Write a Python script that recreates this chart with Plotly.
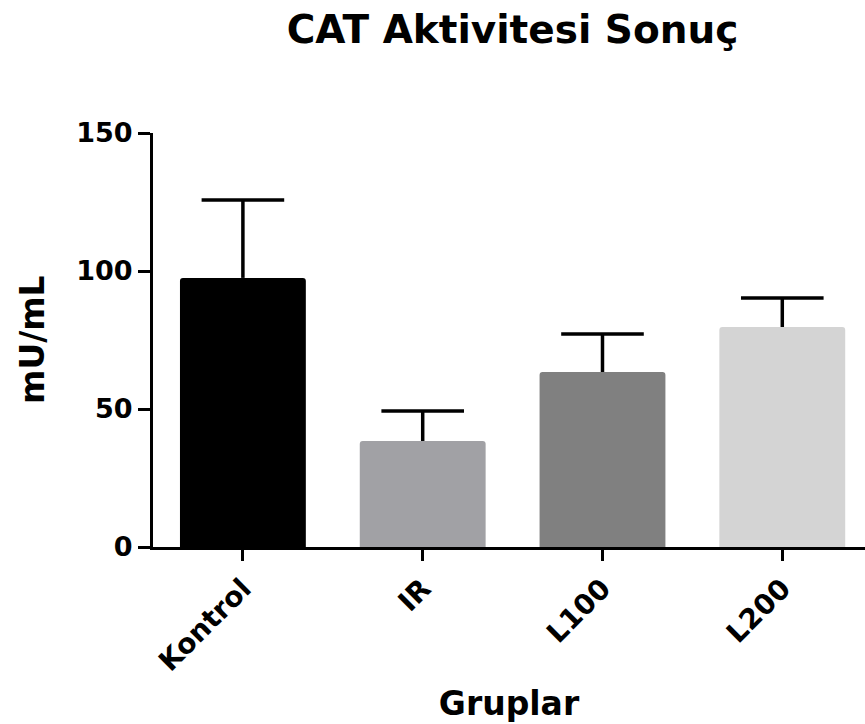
import plotly.graph_objects as go

groups = ["Kontrol", "IR", "L100", "L200"]
means = [97.5, 38.4, 63.4, 79.7]
sem = [28.2, 10.9, 13.8, 10.5]
colors = ["#000000", "#a1a1a5", "#808080", "#d4d4d4"]
y_ticks = [0, 50, 100, 150]

FONT = "DejaVu Sans, Liberation Sans, Arial"

fig = go.Figure()
fig.add_trace(
    go.Bar(
        x=groups,
        y=means,
        marker=dict(color=colors, line=dict(width=0)),
        width=0.7,
        error_y=dict(
            type="data",
            symmetric=False,
            array=sem,
            arrayminus=[0] * len(sem),
            color="#000000",
            thickness=3.5,
            width=0,
        ),
    )
)
# top caps of the (upper-only) error bars
fig.add_trace(
    go.Scatter(
        x=groups,
        y=[m + s for m, s in zip(means, sem)],
        mode="markers",
        marker=dict(symbol="line-ew", size=59, line=dict(width=3.5, color="#000000")),
        hoverinfo="skip",
    )
)

fig.update_layout(
    width=865,
    height=724,
    margin=dict(l=153, r=0, t=133, b=177),
    paper_bgcolor="white",
    plot_bgcolor="white",
    showlegend=False,
    barcornerradius=3,
    title=dict(
        text="CAT Aktivitesi Sonuç",
        font=dict(family=FONT, size=39, color="black", weight="bold"),
        x=0.505,
        xref="paper",
        xanchor="center",
        y=1 - 29 / 724,
        yref="container",
        yanchor="middle",
    ),
    annotations=[
        dict(
            text="mU/mL",
            textangle=-90,
            xref="paper",
            yref="paper",
            x=(32 - 153) / 712,
            y=0.5,
            xanchor="center",
            yanchor="middle",
            showarrow=False,
            font=dict(family=FONT, size=33, color="black", weight="bold"),
        )
    ],
)

fig.update_xaxes(
    type="category",
    range=[-0.5, 3.46],
    showline=True,
    linecolor="black",
    linewidth=3,
    ticks="outside",
    ticklen=11,
    tickwidth=3,
    tickcolor="black",
    tickangle=-45,
    tickfont=dict(family=FONT, size=28, color="black", weight="bold"),
    showgrid=False,
    zeroline=False,
    title=dict(
        text="Gruplar",
        font=dict(family=FONT, size=33, color="black", weight="bold"),
        standoff=16,
    ),
)

fig.update_yaxes(
    range=[0, 150],
    tickvals=y_ticks,
    showline=True,
    linecolor="black",
    linewidth=3,
    ticks="outside",
    ticklen=12,
    tickwidth=3,
    tickcolor="black",
    tickfont=dict(family=FONT, size=27, color="black", weight="bold"),
    showgrid=False,
    zeroline=False,
)

fig.write_html("out.html")
